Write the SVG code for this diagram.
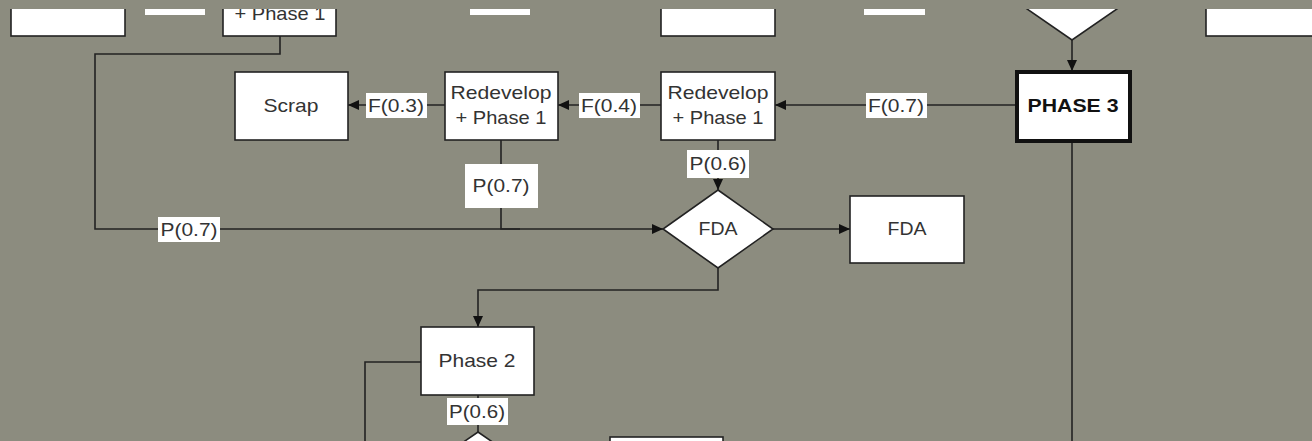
<svg xmlns="http://www.w3.org/2000/svg" width="1312" height="441" viewBox="0 0 1312 441">
  <defs>
    <marker id="arr" viewBox="0 0 11 10" refX="11" refY="5" markerWidth="11" markerHeight="10" markerUnits="userSpaceOnUse" orient="auto">
      <path d="M0,0 L11,5 L0,10 z" fill="#111"/>
    </marker>
    <clipPath id="view"><rect x="0" y="9" width="1312" height="432"/></clipPath>
    <style>
      .box{fill:#fff;stroke:#222;stroke-width:1.6}
      .bold{fill:#fff;stroke:#111;stroke-width:4}
      .lbl{fill:#fff}
      .t{font-family:"Liberation Sans",Arial,sans-serif;font-size:18.5px;fill:#333;text-anchor:middle}
      .n{font-family:"Liberation Sans",Arial,sans-serif;font-size:18.5px;fill:#333;text-anchor:middle}
      .tb{font-family:"Liberation Sans",Arial,sans-serif;font-size:18.5px;font-weight:bold;fill:#111;text-anchor:middle}
      .ln{fill:none;stroke:#222;stroke-width:1.6}
    </style>
  </defs>
  <rect width="1312" height="441" fill="#8c8c7f"/>
  <g clip-path="url(#view)">
    <!-- connectors -->
    <g id="connectors">
      <polyline class="ln" points="280,36 280,54 95,54 95,229 663,229" marker-end="url(#arr)"/>
      <polyline class="ln" points="501,140 501,229 520,229"/>
      <line class="ln" x1="1072" y1="40" x2="1072" y2="71" marker-end="url(#arr)"/>
      <line class="ln" x1="1072" y1="142" x2="1072" y2="441"/>
      <line class="ln" x1="1016" y1="105" x2="775" y2="105" marker-end="url(#arr)"/>
      <line class="ln" x1="661" y1="105" x2="558" y2="105" marker-end="url(#arr)"/>
      <line class="ln" x1="445" y1="105" x2="348" y2="105" marker-end="url(#arr)"/>
      <line class="ln" x1="718" y1="140" x2="718" y2="190" marker-end="url(#arr)"/>
      <line class="ln" x1="773" y1="229" x2="850" y2="229" marker-end="url(#arr)"/>
      <polyline class="ln" points="718,268 718,290 478,290 478,327" marker-end="url(#arr)"/>
      <polyline class="ln" points="421,362 365,362 365,441"/>
      <line class="ln" x1="478" y1="395" x2="478" y2="432"/>
      <!-- edge labels -->
      <rect class="lbl" x="145" y="0" width="60" height="15"/>
      <rect class="lbl" x="470" y="0" width="60" height="15"/>
      <rect class="lbl" x="864" y="0" width="61" height="15"/>
      <rect class="lbl" x="866" y="93" width="61" height="25"/>
      <text class="t" x="896" y="112" textLength="56" lengthAdjust="spacingAndGlyphs">F(0.7)</text>
      <rect class="lbl" x="579" y="93" width="61" height="25"/>
      <text class="t" x="609" y="112" textLength="56" lengthAdjust="spacingAndGlyphs">F(0.4)</text>
      <rect class="lbl" x="366" y="93" width="61" height="25"/>
      <text class="t" x="396" y="112" textLength="56" lengthAdjust="spacingAndGlyphs">F(0.3)</text>
      <rect class="lbl" x="687" y="150" width="62" height="28"/>
      <text class="t" x="718" y="170" textLength="57" lengthAdjust="spacingAndGlyphs">P(0.6)</text>
      <rect class="lbl" x="465" y="164" width="73" height="44"/>
      <text class="t" x="501" y="192" textLength="57" lengthAdjust="spacingAndGlyphs">P(0.7)</text>
      <rect class="lbl" x="158" y="217" width="62" height="25"/>
      <text class="t" x="189" y="236" textLength="57" lengthAdjust="spacingAndGlyphs">P(0.7)</text>
      <rect class="lbl" x="447" y="398" width="61" height="27"/>
      <text class="t" x="477" y="418" textLength="56" lengthAdjust="spacingAndGlyphs">P(0.6)</text>
    </g>
    <!-- nodes -->
    <g id="top-box-1"><rect class="box" x="11" y="-32" width="114" height="68"/></g>
    <g id="top-box-2"><rect class="box" x="223" y="-32" width="113" height="68"/><text class="n" x="280" y="20" textLength="91" lengthAdjust="spacingAndGlyphs">+ Phase 1</text></g>
    <g id="top-box-3"><rect class="box" x="661" y="-32" width="114" height="68"/></g>
    <g id="top-decision"><polygon class="box" points="1072,-36 1127,2 1072,40 1017,2"/></g>
    <g id="top-box-4"><rect class="box" x="1206" y="-32" width="114" height="68"/></g>
    <g id="scrap"><rect class="box" x="235" y="72" width="113" height="68"/><text class="n" x="291" y="112" textLength="55" lengthAdjust="spacingAndGlyphs">Scrap</text></g>
    <g id="redevelop-1"><rect class="box" x="445" y="72" width="113" height="68"/><text class="n" x="501" y="99" textLength="101" lengthAdjust="spacingAndGlyphs">Redevelop</text><text class="n" x="501" y="124" textLength="91" lengthAdjust="spacingAndGlyphs">+ Phase 1</text></g>
    <g id="redevelop-2"><rect class="box" x="661" y="72" width="114" height="68"/><text class="n" x="718" y="99" textLength="101" lengthAdjust="spacingAndGlyphs">Redevelop</text><text class="n" x="718" y="124" textLength="91" lengthAdjust="spacingAndGlyphs">+ Phase 1</text></g>
    <g id="phase-3"><rect class="bold" x="1017" y="72" width="113" height="69"/><text class="tb" x="1073" y="112" textLength="91" lengthAdjust="spacingAndGlyphs">PHASE 3</text></g>
    <g id="fda-decision"><polygon class="box" points="718,190 773,229 718,268 663,229"/><text class="n" x="718" y="235" textLength="39" lengthAdjust="spacingAndGlyphs">FDA</text></g>
    <g id="fda"><rect class="box" x="850" y="196" width="114" height="67"/><text class="n" x="907" y="235" textLength="39" lengthAdjust="spacingAndGlyphs">FDA</text></g>
    <g id="phase-2"><rect class="box" x="421" y="327" width="113" height="68"/><text class="n" x="477" y="367" textLength="77" lengthAdjust="spacingAndGlyphs">Phase 2</text></g>
    <g id="bottom-decision"><polygon class="box" points="478,432 533,470 478,508 423,470"/></g>
    <g id="bottom-box"><rect class="box" x="610" y="437" width="113" height="68"/></g>
  </g>
</svg>
